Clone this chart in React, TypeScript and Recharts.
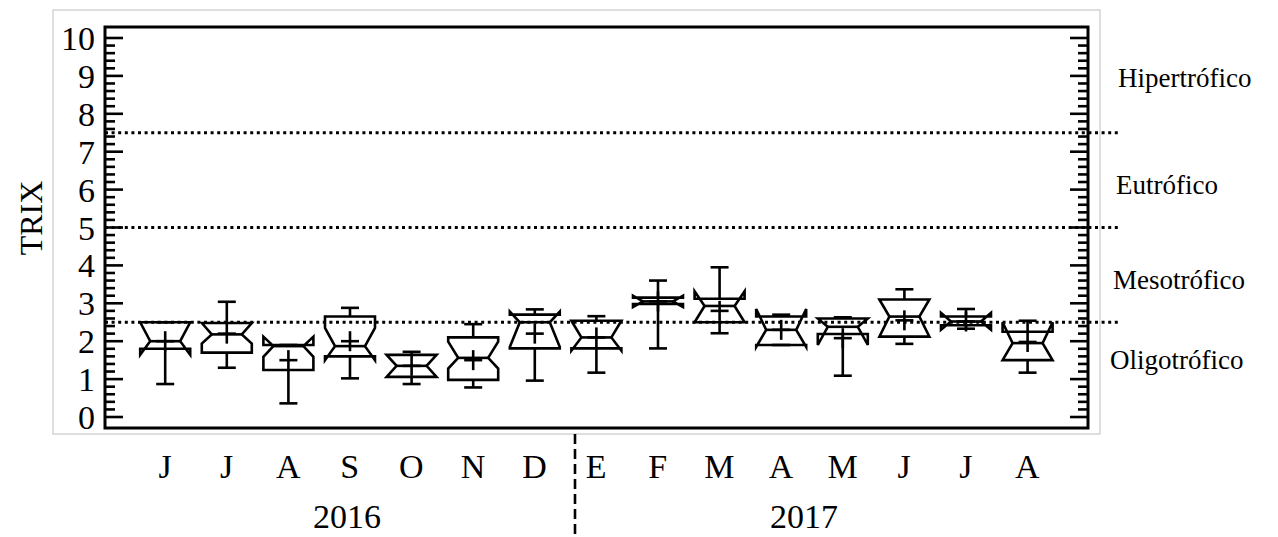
import React from "react";
import { ComposedChart, Bar, XAxis, YAxis, ReferenceLine, ReferenceArea, Customized } from "recharts";

// months Jun 2016 -> Aug 2017
const months = ["J", "J", "A", "S", "O", "N", "D", "E", "F", "M", "A", "M", "J", "J", "A"];

// notched box plot stats per month (TRIX)
const boxMin = [0.87, 1.3, 0.36, 1.02, 0.87, 0.78, 0.96, 1.17, 1.81, 2.21, 1.9, 1.09, 1.93, 2.33, 1.17];
const boxQ1 = [1.8, 1.7, 1.24, 1.6, 1.06, 0.98, 1.81, 1.81, 2.98, 2.5, 1.9, 2.19, 2.12, 2.42, 1.5];
const notchLo = [1.64, 1.94, 1.59, 1.5, 1.06, 1.28, 1.85, 1.75, 2.9, 2.5, 1.85, 1.9, 2.12, 2.3, 1.5];
const boxMedian = [2.0, 2.18, 1.87, 1.87, 1.35, 1.56, 2.5, 2.1, 3.05, 2.93, 2.3, 2.38, 2.65, 2.52, 1.95];
const notchHi = [2.5, 2.48, 2.12, 2.35, 1.64, 1.99, 2.78, 2.54, 3.2, 3.32, 2.85, 2.6, 3.1, 2.75, 2.5];
const boxQ3 = [2.5, 2.48, 1.9, 2.65, 1.64, 2.1, 2.7, 2.54, 3.15, 3.12, 2.65, 2.6, 3.1, 2.65, 2.25];
const boxMax = [2.5, 3.04, 1.9, 2.88, 1.72, 2.45, 2.84, 2.66, 3.6, 3.95, 2.7, 2.63, 3.37, 2.85, 2.54];
const boxMean = [2.0, 2.2, 1.5, 2.0, 1.35, 1.5, 2.2, 2.1, 3.05, 2.8, 2.3, 2.08, 2.55, 2.52, 1.98];

// trophic state limits
const limits = [2.5, 5, 7.5];
const stateLabels = ["Hipertrófico", "Eutrófico", "Mesotrófico", "Oligotrófico"];
const years = ["2016", "2017"];

const Y_DOMAIN = [-0.29, 10.29];
const X_DOMAIN = [-0.974, 14.984];
const monthIdx = months.map((_, i) => i);
const minorTicks: number[] = [];
for (let i = 0; i <= 50; i++) minorTicks.push(i / 5);

const data = months.map((m, i) => ({
  idx: i,
  min: boxMin[i],
  q1: boxQ1[i],
  nlo: notchLo[i],
  med: boxMedian[i],
  nhi: notchHi[i],
  q3: boxQ3[i],
  max: boxMax[i],
  mean: boxMean[i],
}));

const SERIF = "'Liberation Serif', 'Times New Roman', serif";
const K = "#000";

const BoxShape = (props: any) => {
  const { x, y, width, height, payload: d } = props;
  const top = Math.min(y, y + height);
  const h = Math.abs(height);
  const ppu = h / (d.max - d.min);
  const Y = (v: number) => top + (d.max - v) * ppu;
  const l = x, r = x + width, cx = x + width / 2, ind = width * 0.2;
  const pts = [
    [l, Y(d.q3)], [l, Y(d.nhi)], [l + ind, Y(d.med)], [l, Y(d.nlo)], [l, Y(d.q1)],
    [r, Y(d.q1)], [r, Y(d.nlo)], [r - ind, Y(d.med)], [r, Y(d.nhi)], [r, Y(d.q3)],
  ].map((p) => p.join(",")).join(" ");
  const cap = 9;
  const my = Y(d.mean);
  return (
    <g stroke={K} strokeWidth={2.6} fill="none">
      <polygon points={pts} strokeLinejoin="miter" />
      <line x1={l + ind} x2={r - ind} y1={Y(d.med)} y2={Y(d.med)} />
      <line x1={cx} x2={cx} y1={Y(d.q3)} y2={Y(d.max)} />
      <line x1={cx - cap} x2={cx + cap} y1={Y(d.max)} y2={Y(d.max)} />
      <line x1={cx} x2={cx} y1={Y(d.q1)} y2={Y(d.min)} />
      <line x1={cx - cap} x2={cx + cap} y1={Y(d.min)} y2={Y(d.min)} />
      <line x1={cx - 9} x2={cx + 9} y1={my} y2={my} />
      <line x1={cx} x2={cx} y1={my - 10} y2={my + 10} />
    </g>
  );
};

const isMajor = (v: number) => Math.abs(v - Math.round(v)) < 1e-6;

const LeftTick = (props: any) => {
  const { x, y, payload } = props;
  const v = payload.value;
  const edge = x + 8;
  const major = isMajor(v);
  return (
    <g>
      <line x1={edge} x2={edge + (major ? 18 : 10)} y1={y} y2={y} stroke={K} strokeWidth={2.6} />
      {major && (
        <text x={x - 2} y={y} dy={12} textAnchor="end" fontSize={34} fontFamily={SERIF} fill={K}>
          {Math.round(v)}
        </text>
      )}
    </g>
  );
};

const RightTick = (props: any) => {
  const { x, y, payload } = props;
  const major = isMajor(payload.value);
  return <line x1={x} x2={x - (major ? 18 : 10)} y1={y} y2={y} stroke={K} strokeWidth={2.6} />;
};

const MonthTick = (props: any) => {
  const { x, y, payload } = props;
  return (
    <text x={x} y={y + 50} textAnchor="middle" fontSize={34} fontFamily={SERIF} fill={K}>
      {months[Math.round(payload.value)]}
    </text>
  );
};

const DottedLine = (props: any) => {
  const { x1, x2, y1 } = props;
  return (
    <line x1={Math.min(x1, x2)} x2={Math.max(x1, x2) + 32} y1={y1} y2={y1}
      stroke={K} strokeWidth={3} strokeDasharray="3 3.6" />
  );
};

const Annotations = () => (
  <g fontFamily={SERIF} fill={K}>
    <rect x={53} y={10} width={1047} height={424} fill="none" stroke="#d4d4d4" strokeWidth={1.5} />
    <text transform="translate(42,218) rotate(-90)" textAnchor="middle" fontSize={32}>TRIX</text>
    <text x={1118} y={87} fontSize={27}>{stateLabels[0]}</text>
    <text x={1116} y={194} fontSize={27}>{stateLabels[1]}</text>
    <text x={1113} y={289} fontSize={27}>{stateLabels[2]}</text>
    <text x={1110} y={369} fontSize={27}>{stateLabels[3]}</text>
    <text x={347} y={528} textAnchor="middle" fontSize={34}>{years[0]}</text>
    <text x={804} y={528} textAnchor="middle" fontSize={34}>{years[1]}</text>
    <line x1={575} x2={575} y1={434} y2={537} stroke={K} strokeWidth={2.6} strokeDasharray="10 5" />
  </g>
);

export default function App() {
  return (
    <div style={{ position: "absolute", left: 0, top: 0, background: "#fff" }}>
      <ComposedChart width={1278} height={537} data={data} margin={{ top: 27, right: 180, bottom: 0, left: 0 }}>
        <XAxis dataKey="idx" xAxisId="m" type="number" domain={X_DOMAIN} allowDataOverflow ticks={monthIdx}
          height={109} axisLine={false} tickLine={false} tickSize={0} tickMargin={0} interval={0}
          tick={<MonthTick />} />
        <YAxis yAxisId="left" type="number" domain={Y_DOMAIN} allowDataOverflow ticks={minorTicks}
          interval={0} width={105} axisLine={false} tickLine={false} tickSize={0} tickMargin={8} tick={<LeftTick />} />
        <YAxis yAxisId="right" orientation="right" type="number" domain={Y_DOMAIN} allowDataOverflow
          ticks={minorTicks} interval={0} width={10} axisLine={false} tickLine={false} tickSize={0} tickMargin={0}
          tick={<RightTick />} />
        {limits.map((v) => (
          <ReferenceLine key={v} y={v} xAxisId="m" yAxisId="left" shape={<DottedLine />} />
        ))}
        <Bar xAxisId="m" yAxisId="left" dataKey={(d: any) => [d.min, d.max]} barSize={50}
          shape={<BoxShape />} isAnimationActive={false} />
        <ReferenceArea xAxisId="m" yAxisId="left" y1={Y_DOMAIN[0]} y2={Y_DOMAIN[1]} ifOverflow="visible"
          fill="none" stroke={K} strokeWidth={3} />
        <Customized component={Annotations} />
      </ComposedChart>
    </div>
  );
}
